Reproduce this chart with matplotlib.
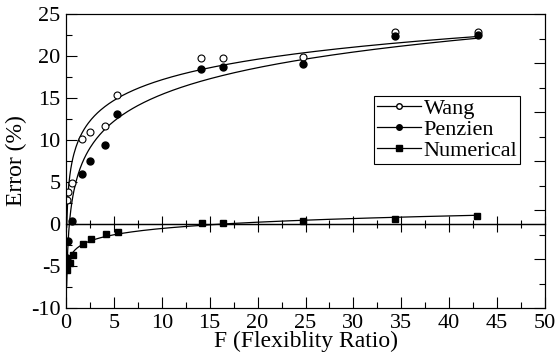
import numpy as np
import matplotlib
matplotlib.use('Agg')
from matplotlib import pyplot as plt
from matplotlib.ticker import MultipleLocator
from matplotlib.lines import Line2D

# data
f_ratio = [0.07, 0.25, 0.62, 1.7, 2.5, 4.1, 5.3, 14.1, 16.4, 24.7, 34.3, 43.0]
wang = [2.8, 3.8, 4.9, 10.1, 10.9, 11.7, 15.4, 19.8, 19.8, 19.9, 22.8, 22.8]
penzien = [-4.0, -2.0, 0.3, 6.0, 7.5, 9.4, 13.1, 18.4, 18.7, 19.1, 22.4, 22.5]
f_num = [0.07, 0.4, 0.7, 1.8, 2.6, 4.2, 5.4, 14.2, 16.4, 24.7, 34.3, 42.9]
numerical = [-5.5, -4.7, -3.7, -2.4, -1.8, -1.2, -0.9, 0.1, 0.1, 0.3, 0.6, 0.9]

plt.rcParams['font.family'] = ['Liberation Serif', 'DejaVu Serif']
plt.rcParams['axes.unicode_minus'] = False
fs = 16

fig = plt.figure(figsize=(5.57, 3.64), dpi=100)
ax = fig.add_axes([0.1185, 0.1538, 0.86, 0.8077])


def log_fit(x, y):
    # trend line y = a*ln(x) + b, like the original plot
    x = np.asarray(x)
    c = np.polyfit(np.log(x), y, 1)
    xx = np.linspace(x.min(), x.max(), 400)
    return xx, c[0] * np.log(xx) + c[1]


for x, y in [(f_ratio, wang), (f_ratio, penzien), (f_num, numerical)]:
    xx, yy = log_fit(x, y)
    ax.plot(xx, yy, color='black', lw=0.9)

ax.plot(f_ratio, wang, 'o', mfc='white', mec='black', ms=5, mew=0.8)
ax.plot(f_ratio, penzien, 'o', color='black', ms=5)
ax.plot(f_num, numerical, 's', color='black', ms=5)

handles = [Line2D([], [], color='black', lw=0.9, marker='o', mfc='white', mec='black', ms=4),
           Line2D([], [], color='black', lw=0.9, marker='o', ms=4),
           Line2D([], [], color='black', lw=0.9, marker='s', ms=4)]
leg = ax.legend(handles, ['Wang', 'Penzien', 'Numerical'], loc='upper right',
                bbox_to_anchor=(0.948, 0.721), fontsize=fs, handlelength=2.0,
                handletextpad=0.1, labelspacing=0.02, borderpad=0.12,
                fancybox=False, framealpha=1, borderaxespad=0)
leg.get_frame().set_edgecolor('black')
leg.get_frame().set_linewidth(0.8)

ax.set_xlim(0, 50)
ax.set_ylim(-10, 25)
ax.xaxis.set_major_locator(MultipleLocator(5))
ax.xaxis.set_minor_locator(MultipleLocator(2.5))
ax.yaxis.set_major_locator(MultipleLocator(5))
ax.yaxis.set_minor_locator(MultipleLocator(2.5))
ax.tick_params(which='both', direction='in', top=True, right=False, labelsize=fs, width=0.8)
ax.tick_params(which='major', length=8, pad=4)
ax.tick_params(which='minor', length=4)
for s in ax.spines.values():
    s.set_linewidth(0.8)

ax.set_xlabel('F (Flexiblity Ratio)', fontsize=fs + 1, labelpad=-1)
ax.set_ylabel('Error (%)', fontsize=fs + 1, labelpad=3)

# zero line with its own ticks
ax.axhline(0, color='black', lw=0.9)
zx = ax.twiny()
zx.set_xlim(0, 50)
zx.spines['bottom'].set_position(('data', 0))
zx.xaxis.set_ticks_position('bottom')
zx.xaxis.set_major_locator(MultipleLocator(5))
zx.xaxis.set_minor_locator(MultipleLocator(2.5))
zx.tick_params(which='both', direction='inout', labelbottom=False, labeltop=False, width=0.8)
zx.tick_params(which='major', length=12)
zx.tick_params(which='minor', length=6)
for k in ['top', 'left', 'right']:
    zx.spines[k].set_visible(False)
zx.spines['bottom'].set_linewidth(0.9)

# right side ticks on their own scale
ry = ax.twinx()
ry.set_ylim(0, 6)
ry.yaxis.set_major_locator(MultipleLocator(1))
ry.yaxis.set_minor_locator(MultipleLocator(0.5))
ry.tick_params(which='both', direction='in', labelright=False, width=0.8)
ry.tick_params(which='major', length=8)
ry.tick_params(which='minor', length=4)
for s in ry.spines.values():
    s.set_linewidth(0.8)

fig.savefig('out.png', dpi=100)
